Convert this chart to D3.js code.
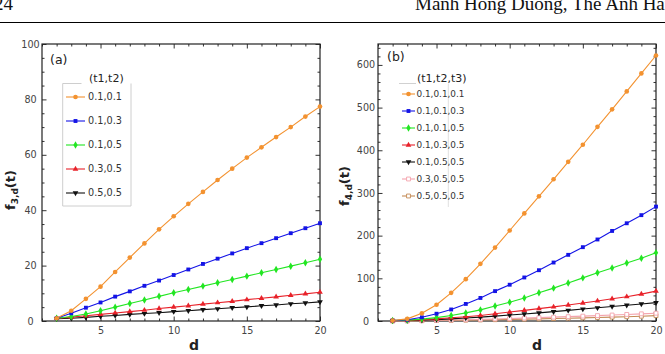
<!DOCTYPE html>
<html>
<head>
<meta charset="utf-8">
<script src="https://d3js.org/d3.v7.min.js"></script>
<style>
  body { margin: 0; background: #fff; }
  svg { display: block; }
  text { font-family: 'DejaVu Sans', sans-serif; }
</style>
</head>
<body>
<div id="chart"></div>
<script>
// d values (same for both panels)
const dValues = [2, 3, 4, 5, 6, 7, 8, 9, 10, 11, 12, 13, 14, 15, 16, 17, 18, 19, 20];

// panel (a): f_{3,d}(t), legend (t1,t2)
const labelsA = ['0.1,0.1', '0.1,0.3', '0.1,0.5', '0.3,0.5', '0.5,0.5'];
const f3_01_01 = [1.0, 3.7, 8.0, 12.4, 17.7, 22.9, 28.0, 33.1, 37.8, 42.3, 46.6, 50.9, 55.0, 59.0, 62.7, 66.4, 70.0, 73.8, 77.4];
const f3_01_03 = [1.0, 2.8, 4.8, 6.7, 8.8, 10.7, 12.7, 14.6, 16.6, 18.6, 20.6, 22.5, 24.4, 26.3, 28.1, 29.9, 31.7, 33.5, 35.3];
const f3_01_05 = [1.0, 1.6, 2.5, 3.7, 5.0, 6.3, 7.6, 8.9, 10.2, 11.4, 12.6, 13.8, 15.0, 16.2, 17.4, 18.6, 19.8, 21.0, 22.3];
const f3_03_05 = [1.0, 1.4, 1.9, 2.4, 2.9, 3.4, 3.9, 4.5, 5.0, 5.5, 6.1, 6.6, 7.1, 7.7, 8.2, 8.7, 9.3, 9.8, 10.4];
const f3_05_05 = [0.8, 1.0, 1.3, 1.7, 2.0, 2.4, 2.7, 3.0, 3.4, 3.7, 4.1, 4.4, 4.8, 5.1, 5.5, 5.8, 6.2, 6.5, 6.9];

// panel (b): f_{4,d}(t), legend (t1,t2,t3)
const labelsB = ['0.1,0.1,0.1', '0.1,0.1,0.3', '0.1,0.1,0.5', '0.1,0.3,0.5', '0.1,0.5,0.5', '0.3,0.5,0.5', '0.5,0.5,0.5'];
const f4_01_01_01 = [1, 5, 18, 38, 66, 98, 134, 172, 212, 252, 292, 332, 373, 413, 455, 496, 538, 580, 622];
const f4_01_01_03 = [1, 3, 8.6, 17, 27, 40, 54, 70, 85, 102, 119, 137, 155, 173, 191, 211, 229, 248, 268];
const f4_01_01_05 = [1, 2, 4.5, 8, 13, 19, 26, 35, 44, 54, 66, 77, 89, 101, 113, 124, 136, 147, 160];
const f4_01_03_05 = [1, 1.5, 3, 5, 7.5, 10, 13, 17, 21, 25, 29, 33, 37.5, 42, 47, 52, 57, 63, 70];
const f4_01_05_05 = [0.5, 1, 2, 3.3, 5, 7, 9, 11.5, 14, 16.5, 19, 22, 25, 28, 31, 34, 37, 40, 43];
const f4_03_05_05 = [0.3, 0.6, 1, 1.6, 2.3, 3, 3.9, 4.8, 5.8, 6.8, 7.9, 9, 10.2, 11.4, 12.7, 14, 15.4, 16.8, 18.3];
const f4_05_05_05 = [0.2, 0.4, 0.7, 1.1, 1.5, 2, 2.5, 3.1, 3.7, 4.3, 5, 5.7, 6.5, 7.3, 8.2, 9.1, 10.1, 11.2, 12.5];

// tick labels
const xTicks = [5, 10, 15, 20];
const yTicksA = [0, 20, 40, 60, 80, 100];
const yTicksB = [0, 100, 200, 300, 400, 500, 600];

// look of each series: colour, marker
const styles = [
  { color: '#f39230', shape: 'circle' },
  { color: '#1414e6', shape: 'square' },
  { color: '#22e622', shape: 'diamond' },
  { color: '#e8222a', shape: 'triUp' },
  { color: '#111111', shape: 'triDown' },
  { color: '#f4a3ad', shape: 'openSquare' },
  { color: '#c48a55', shape: 'openSquare' }
];

let panelA = {
  left: 42, right: 320, top: 44, bottom: 321,
  xDomain: [1, 20], yDomain: [0, 100],
  yTicks: yTicksA, yMinorStep: 5, yLabelX: 30.5,
  series: [f3_01_01, f3_01_03, f3_01_05, f3_03_05, f3_05_05],
  labels: labelsA, sub: '3,d', tag: '(a)', tagX: 50, tagY: 64,
  axisLabelX: 15, axisLabelY: 190, xLabelX: 194,
  legend: { title: '(t1,t2)', titleX: 89, lineX0: 66, lineX1: 85, textX: 88, rowY0: 97, rowStep: 24, font: 9.7 }
};

let panelB = {
  left: 378, right: 656, top: 44, bottom: 321,
  xDomain: [1, 20], yDomain: [0, 649],
  yTicks: yTicksB, yMinorStep: 20, yLabelX: 366,
  series: [f4_01_01_01, f4_01_01_03, f4_01_01_05, f4_01_03_05, f4_01_05_05, f4_03_05_05, f4_05_05_05],
  labels: labelsB, sub: '4,d', tag: '(b)', tagX: 387, tagY: 61,
  axisLabelX: 349, axisLabelY: 186, xLabelX: 537,
  legend: { title: '(t1,t2,t3)', titleX: 417, lineX0: 402, lineX1: 415, textX: 416.5, rowY0: 94, rowStep: 17, font: 8.9 }
};

let svg = d3.select('#chart')
  .append('svg')
  .attr('width', 665)
  .attr('height', 354)
  ;

// page header (cut at the top edge, as in the scan)
svg.append('text')
  .attr('x', -6)
  .attr('y', 10)
  .style('font-family', "'Liberation Serif', serif")
  .style('font-size', '19px')
  .attr('fill', '#111')
  .text('24');

svg.append('text')
  .attr('x', 415)
  .attr('y', 10)
  .style('font-family', "'Liberation Serif', serif")
  .style('font-size', '19px')
  .attr('fill', '#111')
  .text('Manh Hong Duong, The Anh Han');

svg.append('line')
  .attr('x1', 0).attr('x2', 665)
  .attr('y1', 22.5).attr('y2', 22.5)
  .attr('stroke', '#000')
  .attr('stroke-width', 1.1);

function marker(shape) {
  let sym = d3.symbol();
  if (shape === 'circle') return sym.type(d3.symbolCircle).size(17)();
  if (shape === 'square' || shape === 'openSquare') return sym.type(d3.symbolSquare).size(15)();
  if (shape === 'diamond') return sym.type(d3.symbolDiamond).size(16)();
  return sym.type(d3.symbolTriangle).size(14)();
}

function drawMarker(g, shape, color, cx, cy) {
  let open = shape === 'openSquare';
  g.append('path')
    .attr('d', marker(shape))
    .attr('transform', `translate(${cx},${cy})` + (shape === 'triDown' ? ' rotate(180)' : ''))
    .attr('fill', open ? '#fff' : color)
    .attr('stroke', open ? color : 'none')
    .attr('stroke-width', 0.9);
}

function drawPanel(p) {
  let xscale = d3.scaleLinear().domain(p.xDomain).range([p.left, p.right]);
  let yscale = d3.scaleLinear().domain(p.yDomain).range([p.bottom, p.top]);
  let g = svg.append('g');

  let xMinor = d3.range(1, 21).filter(v => xTicks.indexOf(v) < 0);
  let yMinor = d3.range(0, p.yDomain[1], p.yMinorStep).filter(v => p.yTicks.indexOf(v) < 0);

  // frame ticks on all four sides, pointing inward
  let sides = [
    { axis: d3.axisBottom(xscale), at: `translate(0,${p.bottom})`, major: xTicks, minor: xMinor, labels: true },
    { axis: d3.axisTop(xscale), at: `translate(0,${p.top})`, major: xTicks, minor: xMinor, labels: false },
    { axis: d3.axisLeft(yscale), at: `translate(${p.left},0)`, major: p.yTicks, minor: yMinor, labels: true },
    { axis: d3.axisRight(yscale), at: `translate(${p.right},0)`, major: p.yTicks, minor: yMinor, labels: false }
  ];

  sides.forEach(s => {
    let majorG = g.append('g')
      .attr('transform', s.at)
      .call(s.axis.tickValues(s.major).tickSizeInner(-4.5).tickSizeOuter(0).tickPadding(6.5)
        .tickFormat(s.labels ? d3.format('d') : ''));
    majorG.select('.domain').remove();
    majorG.selectAll('line').attr('stroke', '#333');
    majorG.selectAll('text')
      .style('font-family', "'DejaVu Sans', sans-serif")
      .style('font-size', '9.6px')
      .attr('fill', '#444');

    let minorG = g.append('g')
      .attr('transform', s.at)
      .call(s.axis.tickValues(s.minor).tickSizeInner(-2.5).tickSizeOuter(0).tickFormat(''));
    minorG.select('.domain').remove();
    minorG.selectAll('line').attr('stroke', '#333');
  });

  // y tick labels are centred in the original
  g.selectAll('.tick text')
    .filter(function () { return this.getAttribute('x') !== null && +this.getAttribute('x') < 0; })
    .attr('text-anchor', 'middle')
    .attr('x', p.yLabelX - p.left);

  g.append('rect')
    .attr('x', p.left)
    .attr('y', p.top)
    .attr('width', p.right - p.left)
    .attr('height', p.bottom - p.top)
    .attr('fill', 'none')
    .attr('stroke', '#222')
    .attr('stroke-width', 1.2);

  // series: draw from the last one so orange sits on top
  let line = d3.line()
    .x((v, i) => xscale(dValues[i]))
    .y(v => yscale(v));

  for (let k = p.series.length - 1; k >= 0; k--) {
    let st = styles[k];
    g.append('path')
      .datum(p.series[k])
      .attr('d', line)
      .attr('fill', 'none')
      .attr('stroke', st.color)
      .attr('stroke-width', 1.1);
    p.series[k].forEach((v, i) => {
      drawMarker(g, st.shape, st.color, xscale(dValues[i]), yscale(v));
    });
  }

  // panel tag
  g.append('text')
    .attr('x', p.tagX)
    .attr('y', p.tagY)
    .style('font-size', '12.5px')
    .attr('fill', '#222')
    .text(p.tag);

  // axis titles
  let yl = g.append('text')
    .attr('transform', `translate(${p.axisLabelX},${p.axisLabelY}) rotate(-90)`)
    .attr('text-anchor', 'middle')
    .style('font-size', '13px')
    .style('font-weight', 'bold')
    .attr('fill', '#222');
  yl.append('tspan').text('f');
  yl.append('tspan').attr('dy', 3).style('font-size', '9px').text(p.sub);
  yl.append('tspan').attr('dy', -3).text('(t)');

  g.append('text')
    .attr('x', p.xLabelX)
    .attr('y', 350)
    .attr('text-anchor', 'middle')
    .style('font-size', '14px')
    .style('font-weight', 'bold')
    .attr('fill', '#222')
    .text('d');

  // legend
  let lg = p.legend;
  g.append('text')
    .attr('x', lg.titleX)
    .attr('y', 82)
    .style('font-size', '11px')
    .attr('fill', '#222')
    .text(lg.title);

  if (p.tag === '(a)') {
    g.append('path')
      .attr('d', 'M81.5,83.5H62.7V206H131V83.5')
      .attr('fill', 'none')
      .attr('stroke', '#c8c8c8')
      .attr('stroke-width', 0.9);
  } else {
    g.append('line')
      .attr('x1', 399).attr('x2', 416)
      .attr('y1', 83.5).attr('y2', 83.5)
      .attr('stroke', '#ccc')
      .attr('stroke-width', 0.9);
    g.append('line')
      .attr('x1', 448.3).attr('x2', 448.3)
      .attr('y1', 83.5).attr('y2', 207)
      .attr('stroke', '#ddd')
      .attr('stroke-width', 0.9);
  }

  p.labels.forEach((lab, k) => {
    let st = styles[k];
    let ry = lg.rowY0 + k * lg.rowStep;
    g.append('line')
      .attr('x1', lg.lineX0).attr('x2', lg.lineX1)
      .attr('y1', ry).attr('y2', ry)
      .attr('stroke', st.color)
      .attr('stroke-width', 1.1);
    drawMarker(g, st.shape, st.color, (lg.lineX0 + lg.lineX1) / 2, ry);
    g.append('text')
      .attr('x', lg.textX)
      .attr('y', ry + lg.font * 0.36)
      .style('font-size', lg.font + 'px')
      .attr('fill', '#333')
      .text(lab);
  });
}

drawPanel(panelA);
drawPanel(panelB);
</script>
</body>
</html>
